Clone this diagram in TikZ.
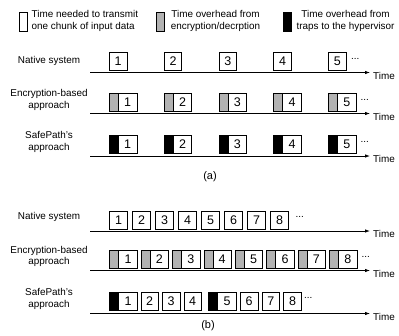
\documentclass[tikz,border=0pt]{standalone}
\usepackage{fontspec}
\setmainfont{Liberation Sans}
\usetikzlibrary{arrows.meta}
\definecolor{ovgray}{RGB}{178,178,178}
\begin{document}
\begin{tikzpicture}[x=1pt,y=-1pt,
  font=\fontsize{9.9}{11.7}\selectfont,
  cell/.style={draw, line width=0.9pt, minimum width=17.5pt, minimum height=18pt, inner sep=0pt, anchor=north west, font=\fontsize{12.5}{12.5}\selectfont},
  wcell/.style={cell, minimum width=18.5pt},
  ovbox/.style={draw, line width=0.9pt, fill=ovgray, minimum width=9pt, minimum height=18pt, inner sep=0pt, anchor=north west},
  trbox/.style={ovbox, fill=black},
  axis/.style={line width=0.8pt, -{Latex[length=5pt,width=3.5pt]}},
  timelbl/.style={anchor=west, inner sep=0pt},
  dots/.style={anchor=base west, inner sep=0pt},
  rowlbl/.style={align=center, inner sep=0pt},
  legbox/.style={draw, line width=0.9pt, minimum width=8pt, minimum height=19pt, inner sep=0pt, anchor=north west}
]
\useasboundingbox (0,0) rectangle (399,335);

% legend
\node[legbox] (lw) at (19,12) {};
\node[rowlbl, align=left, anchor=west] (lwt) at (31.5,21) {Time needed to transmit\\one chunk of input data};
\node[legbox, fill=ovgray] (lg) at (156,12) {};
\node[rowlbl] (lgt) at (215.5,21) {Time overhead from\\encryption/decrption};
\node[legbox, fill=black] (lb) at (283,12) {};
\node[rowlbl] (lbt) at (345.5,21) {Time overhead from\\traps to the hypervisor};

% ---------------- (a) ----------------
\node[rowlbl] (laN) at (49,61) {Native system};
\node[rowlbl] (laE) at (49,100) {Encryption-based\\approach};
\node[rowlbl] (laS) at (49,142) {SafePath's\\approach};

\foreach \i in {1,...,5} {
  \pgfmathsetmacro\xx{109+54.8*(\i-1)}
  \node[cell] (an\i) at (\xx,52) {\i};
  \node[ovbox] (aeo\i) at (\xx,93) {};
  \node[wcell] (ae\i) at (\xx+9,93) {\i};
  \node[trbox] (ast\i) at (\xx,135) {};
  \node[wcell] (as\i) at (\xx+9,135) {\i};
}
\node[dots] (anD) at (351,59) {...};
\node[dots] (aeD) at (360.5,100) {...};
\node[dots] (asD) at (360.5,142) {...};

\coordinate (anS) at (90,72.5); \coordinate (anE) at (370,72.5);
\coordinate (aeS) at (90,113.5); \coordinate (aeE) at (370,113.5);
\coordinate (asS) at (90,156); \coordinate (asE) at (370,156);
\draw[axis] (anS) -- (anE);
\draw[axis] (aeS) -- (aeE);
\draw[axis] (asS) -- (asE);
\node[timelbl] (anT) at (373,75.5) {Time};
\node[timelbl] (aeT) at (373,116.5) {Time};
\node[timelbl] (asT) at (373,159) {Time};

\node[font=\fontsize{11}{11}\selectfont] (capa) at (210,177) {(a)};

% ---------------- (b) ----------------
\node[rowlbl] (lbN) at (49,217) {Native system};
\node[rowlbl] (lbE) at (49,256.5) {Encryption-based\\approach};
\node[rowlbl] (lbS) at (49,299) {SafePath's\\approach};

\foreach \i in {1,...,8} {
  \pgfmathsetmacro\xx{109.3+23.0*(\i-1)}
  \node[cell] (bn\i) at (\xx,210.5) {\i};
  \pgfmathsetmacro\xe{109.3+31.4*(\i-1)}
  \node[ovbox] (beo\i) at (\xe,250) {};
  \node[wcell] (be\i) at (\xe+9,250) {\i};
}
\node[trbox] (bst1) at (109.3,291.5) {};
\node[wcell] (bs1) at (118.3,291.5) {1};
\node[cell] (bs2) at (140.5,291.5) {2};
\node[cell] (bs3) at (162,291.5) {3};
\node[cell] (bs4) at (183.5,291.5) {4};
\node[trbox] (bst5) at (208.3,291.5) {};
\node[wcell] (bs5) at (217.3,291.5) {5};
\node[cell] (bs6) at (240,291.5) {6};
\node[cell] (bs7) at (261.7,291.5) {7};
\node[cell] (bs8) at (283.3,291.5) {8};

\node[dots] (bnD) at (295.5,217.5) {...};
\node[dots] (beD) at (361.5,257) {...};
\node[dots] (bsD) at (304,298.5) {...};

\coordinate (bnS) at (90,231); \coordinate (bnE) at (370,231);
\coordinate (beS) at (90,270.5); \coordinate (beE) at (370,270.5);
\coordinate (bsS) at (90,313.5); \coordinate (bsE) at (370,313.5);
\draw[axis] (bnS) -- (bnE);
\draw[axis] (beS) -- (beE);
\draw[axis] (bsS) -- (bsE);
\node[timelbl] (bnT) at (373,234) {Time};
\node[timelbl] (beT) at (373,273.5) {Time};
\node[timelbl] (bsT) at (373,316.5) {Time};

\node[font=\fontsize{11}{11}\selectfont] (capb) at (208,326) {(b)};
\end{tikzpicture}
\end{document}
